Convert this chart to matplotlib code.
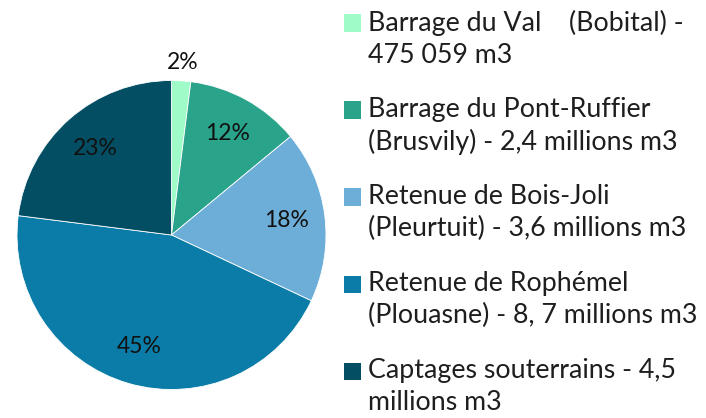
import matplotlib.pyplot as plt
from matplotlib.patches import Rectangle

plt.rcParams['font.family'] = ['Lato', 'DejaVu Sans']

# sources d'eau potable et leur part (en %)
sources = [
    'Barrage du Val    (Bobital) -\n475 059 m3',
    'Barrage du Pont-Ruffier\n(Brusvily) - 2,4 millions m3',
    'Retenue de Bois-Joli\n(Pleurtuit) - 3,6 millions m3',
    'Retenue de Rophémel\n(Plouasne) - 8, 7 millions m3',
    'Captages souterrains - 4,5\nmillions m3',
]
parts = [2, 12, 18, 45, 23]
couleurs = ['#9ffcc9', '#2aa38b', '#6caed8', '#0a7ca7', '#034e63']

fig = plt.figure(figsize=(7.06, 4.18), dpi=100)
W, H = 706, 418
cx, cy, r = 171.5, 235, 154.5
ax = fig.add_axes([(cx - r) / W, (H - cy - r) / H, 2 * r / W, 2 * r / H])

wedges, texts, autotexts = ax.pie(
    parts, colors=couleurs, startangle=90, counterclock=False, radius=1,
    autopct='%1.0f%%', pctdistance=0.75,
    wedgeprops=dict(edgecolor='white', linewidth=0.6),
    textprops=dict(fontsize=16.5, color='#111111'))

# le 2% est placé à l'extérieur de la part
x, y = autotexts[0].get_position()
autotexts[0].set_position((x * 1.12 / 0.75, y * 1.12 / 0.75))

ax.set_xlim(-1, 1)
ax.set_ylim(-1, 1)
ax.set_aspect('equal')
ax.axis('off')

# légende à droite
y0, pas = 23, 87
for i, (nom, c) in enumerate(zip(sources, couleurs)):
    yc = y0 + i * pas
    fig.patches.append(Rectangle((344 / W, (H - yc - 8.5) / H), 17 / W, 17 / H,
                                 transform=fig.transFigure, facecolor=c,
                                 edgecolor='none'))
    fig.text(368 / W, (H - yc + 13) / H, nom, fontsize=19.3, va='top',
             ha='left', color='#1e1e1e', linespacing=1.33)

fig.savefig('out.png', dpi=100)
